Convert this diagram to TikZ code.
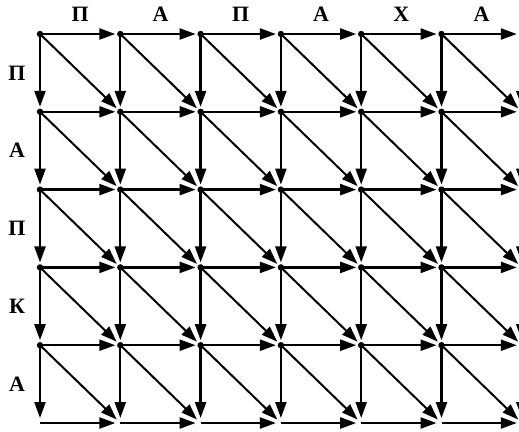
\documentclass[tikz,border=0pt]{standalone}
\usepackage{fontspec}
\setmainfont{Liberation Serif}
\usetikzlibrary{arrows.meta}

\begin{document}
\begin{tikzpicture}[x=1bp,y=-1bp,
  >={Triangle[length=16bp,width=11bp]},
  edge/.style={->,line width=2.3bp,shorten >=5bp},
  diag/.style={edge,line width=2bp},
  letter/.style={font=\fontsize{22}{26}\selectfont\bfseries,inner sep=0pt}
]
\clip (0,0) rectangle (519,431);
% grid points
\foreach \i in {0,...,6}
  \foreach \j in {0,...,5}
    \coordinate (p\i\j) at ({40+80.3*\i},{34+77.8*\j});
% horizontal
\foreach \i [evaluate=\i as \n using int(\i+1)] in {0,...,5}
  \foreach \j in {0,...,5}
    \draw[edge] (p\i\j) -- (p\n\j);
% vertical and diagonal
\foreach \j [evaluate=\j as \m using int(\j+1)] in {0,...,4} {
  \foreach \i in {0,...,6}
    \draw[edge] (p\i\j) -- (p\i\m);
  \foreach \i [evaluate=\i as \n using int(\i+1)] in {0,...,5}
    \draw[diag] (p\i\j) -- (p\n\m);
}
% dots
\foreach \i in {0,...,5}
  \foreach \j in {0,...,4}
    \fill (p\i\j) circle (3.2bp);
% letters
\foreach \lab [count=\k] in {П,А,П,А,Х,А}
  \node[letter] (top\k) at ({40+80.3*(\k-0.5)},14) {\lab};
\foreach \lab [count=\k] in {П,А,П,К,А}
  \node[letter] (left\k) at (17,{34+77.8*(\k-0.5)}) {\lab};
\end{tikzpicture}
\end{document}
